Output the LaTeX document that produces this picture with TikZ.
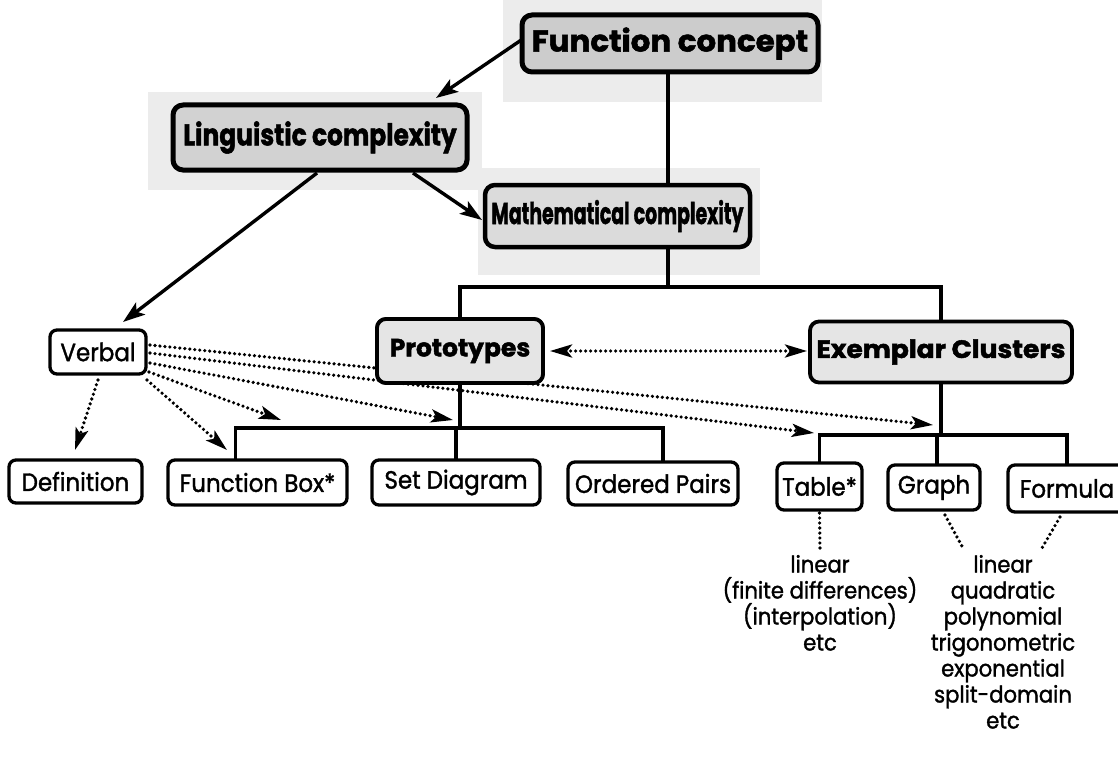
\documentclass[tikz,border=0pt]{standalone}
\usepackage{fontspec}
\setmainfont{Poppins}[FakeStretch=0.92, FakeBold=1.4]
\newfontfamily\heavyfont{Poppins}[FakeBold=1.8]
\usetikzlibrary{arrows.meta,calc}

\begin{document}
\begin{tikzpicture}[x=1pt,y=-1pt,
  every node/.style={inner sep=0pt, outer sep=0pt},
  plain/.style={draw, rounded corners=7pt, line width=3.3pt, minimum height=44pt,
    fill=white, font=\fontsize{25}{28}\selectfont},
  heavy/.style={draw, rounded corners=10pt, line width=5pt,
    font=\heavyfont\bfseries\fontsize{30}{32}\selectfont},
  midbox/.style={draw, rounded corners=9pt, line width=3.8pt, fill=gray!20,
    font=\heavyfont\bfseries\fontsize{25}{28}\selectfont},
  halo/.style={fill=gray!15},
  conn/.style={line width=3.4pt, line join=miter},
  arr/.style={line width=3.4pt, -{Stealth[length=22pt,width=15pt,inset=5pt]}},
  dotline/.style={line width=3.6pt, line cap=round, dash pattern=on 0pt off 5pt},
  dotarr/.style={dotline, -{Stealth[length=22pt,width=13pt,inset=5pt]}},
  listtext/.style={align=center, font=\fontsize{23}{26}\selectfont},
]
\useasboundingbox (0,0) rectangle (1118,765);

% shaded surroundings of the three upper boxes
\fill[halo] (503,0) rectangle (822,102);
\fill[halo] (148,92) rectangle (482,190);
\fill[halo] (478,168) rectangle (760,275);

% bus coordinates of the tree
\coordinate (busA) at (668,287);
\coordinate (busB) at (460,428);
\coordinate (busC) at (937,435);

% upper boxes
\node[heavy, fill=gray!40, minimum width=296pt, minimum height=57pt] (FC) at (670,43.5)
  {\scalebox{1.03}[1]{Function concept}};
\node[heavy, fill=gray!35, minimum width=294pt, minimum height=65pt] (LC) at (320,137.5)
  {\scalebox{0.83}[1]{Linguistic complexity}};
\node[heavy, line width=4.5pt, fill=gray!28, minimum width=265pt, minimum height=62pt] (MC) at (617.5,216)
  {\scalebox{0.63}[1]{Mathematical complexity}};

% middle boxes
\node[midbox, minimum width=166pt, minimum height=64pt] (PT) at (460,351) {Prototypes};
\node[midbox, minimum width=262pt, minimum height=61pt] (EC) at (941,352)
  {\scalebox{1.06}[1]{Exemplar Clusters}};
\node[plain, minimum width=96pt] (VB) at (98,352) {Verbal};

% lower boxes
\node[plain, minimum width=133pt, minimum height=43pt] (DF) at (75.5,481.5) {Definition};
\node[plain, minimum width=179pt, minimum height=45pt] (FB) at (257.5,482.5) {Function Box*};
\node[plain, minimum width=168pt, minimum height=45pt] (SD) at (456,482.5) {Set Diagram};
\node[plain, minimum width=170pt, minimum height=43pt] (OP) at (653,483.5) {Ordered Pairs};
\node[plain, minimum width=85pt, minimum height=47pt] (TB) at (819.5,486.5) {Table*};
\node[plain, minimum width=92pt, minimum height=45pt] (GR) at (934,487.5) {Graph};
\node[plain, minimum width=118pt, minimum height=47pt] (FM) at (1067,488.5) {Formula};

% lists of function families
\node[listtext, anchor=north] (TT) at (820,555) {linear\\(finite differences)\\(interpolation)\\etc};
\node[listtext, anchor=north] (GT) at (1003,555) {linear\\quadratic\\polynomial\\trigonometric\\exponential\\split-domain\\etc};

% tree connectors
\draw[conn] (FC.south -| busA) -- (MC.north -| busA);
\draw[conn] (MC.south -| busA) -- (busA);
\draw[conn] (PT.north) |- (busA) -| (EC.north);
\draw[conn] (PT.south) -- (busB);
\draw[conn] ([xshift=-22pt]FB.north) |- (busB) -| ([xshift=10pt]OP.north);
\draw[conn] (SD.north) -- (SD.north |- busB);
\draw[conn] (EC.south) -- (EC.south |- busC);
\draw[conn] (TB.north) |- (busC) -| (FM.north);
\draw[conn] (GR.north -| busC) -- (busC);

% solid arrows
\draw[arr] ([yshift=4pt]FC.west) -- ([xshift=-31pt,yshift=7pt]LC.north east);
\draw[arr] ([xshift=93pt,yshift=-3pt]LC.south) -- ([xshift=-3pt,yshift=-4pt]MC.west);
\draw[arr] ([xshift=-3pt,yshift=-3pt]LC.south) -- ([xshift=25pt,yshift=8pt]VB.north);

% dotted arrows out of the verbal box
\coordinate (t1) at (75,450);
\coordinate (t2) at (227,450);
\coordinate (t3) at (281,420);
\coordinate (t4) at (453,420);
\coordinate (t5) at (814,433);
\coordinate (t6) at (933,425);
\draw[dotarr] ([yshift=-6pt]VB.south) -- (t1);
\draw[dotarr] ([xshift=1pt,yshift=-6pt]VB.south east) -- (t2);
\draw[dotarr] ([xshift=3pt,yshift=-20pt]VB.east) -- (t3);
\draw[dotarr] ([xshift=4pt,yshift=-11pt]VB.east) -- (t4);
\draw[dotarr] ([xshift=4pt,yshift=-1pt]VB.east) -- (t5);
\draw[dotarr] ([xshift=4pt,yshift=7pt]VB.east) -- (t6);

% the prototypes box again over the lines running beneath it
\node[midbox, minimum width=166pt, minimum height=64pt] at (PT) {Prototypes};

% link between prototypes and exemplar clusters
\draw[dotline, {Stealth[length=22pt,width=13pt,inset=5pt]}-{Stealth[length=22pt,width=13pt,inset=5pt]}]
  ([xshift=7pt]PT.east) -- ([xshift=-3pt,yshift=1pt]EC.west);

% dotted links down to the lists
\draw[dotline] ([yshift=-3pt]TB.south) -- ([yshift=7pt]TT.north);
\draw[dotline] ([xshift=11pt,yshift=-5pt]GR.south) -- ([xshift=-40pt,yshift=7pt]GT.north);
\draw[dotline] ([xshift=-7pt,yshift=-5pt]FM.south) -- ([xshift=39pt,yshift=7pt]GT.north);
\end{tikzpicture}
\end{document}
